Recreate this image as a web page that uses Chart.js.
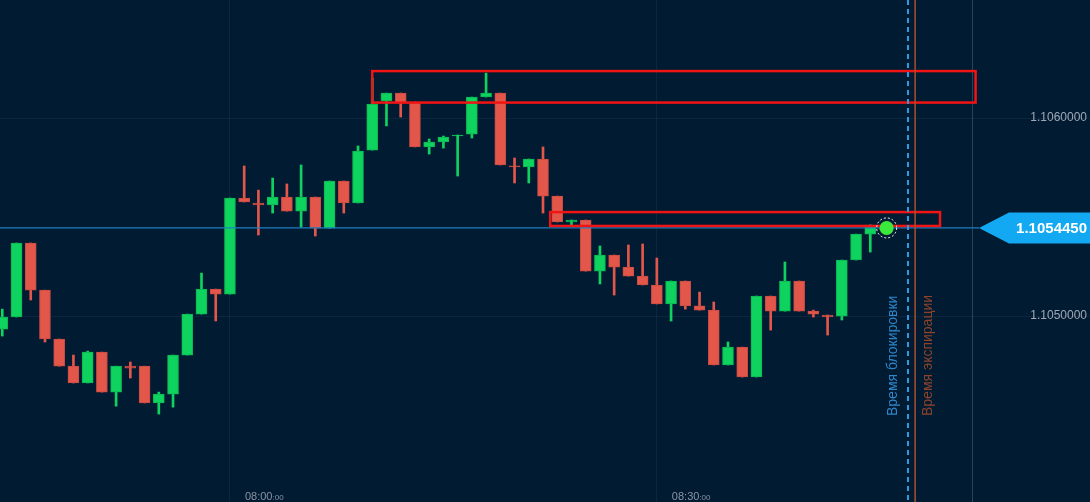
<!DOCTYPE html>
<html>
<head>
<meta charset="utf-8">
<script src="https://cdn.jsdelivr.net/npm/chart.js@4.4.1/dist/chart.umd.min.js"></script>
<style>
  html, body { margin: 0; padding: 0; background: #011b33; overflow: hidden; }
  canvas { display: block; }
</style>
</head>
<body>
<canvas id="chart" width="1090" height="502"></canvas>
<script>
'use strict';

// one-minute candles, index 16 = 08:00
var opens = [1.104934, 1.104995, 1.105369, 1.105131, 1.104884, 1.104747, 1.104662, 1.104818, 1.104616, 1.104747,
  1.104747, 1.104561, 1.104606, 1.104803, 1.105010, 1.105136, 1.105111, 1.105596, 1.105571, 1.105561,
  1.105601, 1.105530, 1.105601, 1.105444, 1.105682, 1.105571, 1.105838, 1.106086, 1.106126, 1.106081,
  1.105854, 1.105879, 1.105909, 1.105919, 1.106106, 1.106126, 1.105758, 1.105753, 1.105793, 1.105606,
  1.105475, 1.105485, 1.105227, 1.105308, 1.105247, 1.105202, 1.105157, 1.105061, 1.105177, 1.105051,
  1.105030, 1.104753, 1.104843, 1.104692, 1.105101, 1.105025, 1.105177, 1.105025, 1.105005, 1.105000,
  1.105283, 1.105414, 1.105438];
var highs = [1.105035, 1.105369, 1.105369, 1.105131, 1.104884, 1.104803, 1.104823, 1.104818, 1.104747, 1.104768,
  1.104747, 1.104616, 1.104803, 1.105010, 1.105217, 1.105136, 1.105596, 1.105758, 1.105636, 1.105697,
  1.105667, 1.105763, 1.105601, 1.105682, 1.105682, 1.105859, 1.106202, 1.106126, 1.106126, 1.106081,
  1.105894, 1.105909, 1.105914, 1.106106, 1.106227, 1.106126, 1.105798, 1.105793, 1.105854, 1.105606,
  1.105485, 1.105485, 1.105354, 1.105308, 1.105359, 1.105364, 1.105293, 1.105177, 1.105177, 1.105121,
  1.105071, 1.104869, 1.104843, 1.105101, 1.105101, 1.105273, 1.105177, 1.105030, 1.105005, 1.105283,
  1.105414, 1.105460, 1.105450];
var lows = [1.104899, 1.104995, 1.105081, 1.104869, 1.104747, 1.104662, 1.104662, 1.104616, 1.104545, 1.104687,
  1.104561, 1.104505, 1.104540, 1.104803, 1.105010, 1.104975, 1.105111, 1.105576, 1.105409, 1.105520,
  1.105530, 1.105449, 1.105404, 1.105444, 1.105520, 1.105571, 1.105838, 1.105960, 1.106005, 1.105854,
  1.105818, 1.105848, 1.105707, 1.105899, 1.106106, 1.105763, 1.105672, 1.105672, 1.105520, 1.105475,
  1.105460, 1.105227, 1.105162, 1.105106, 1.105202, 1.105157, 1.105061, 1.104975, 1.105035, 1.105030,
  1.104753, 1.104753, 1.104692, 1.104692, 1.104929, 1.105025, 1.105025, 1.104995, 1.104904, 1.104980,
  1.105283, 1.105323, 1.105436];
var closes = [1.104995, 1.105369, 1.105131, 1.104884, 1.104747, 1.104662, 1.104818, 1.104616, 1.104747, 1.104737,
  1.104561, 1.104606, 1.104803, 1.105010, 1.105136, 1.105111, 1.105596, 1.105576, 1.105561, 1.105601,
  1.105530, 1.105601, 1.105444, 1.105682, 1.105571, 1.105833, 1.106071, 1.106126, 1.106076, 1.105854,
  1.105879, 1.105904, 1.105914, 1.106106, 1.106126, 1.105763, 1.105753, 1.105793, 1.105606, 1.105475,
  1.105485, 1.105227, 1.105308, 1.105247, 1.105202, 1.105157, 1.105061, 1.105177, 1.105051, 1.105030,
  1.104753, 1.104843, 1.104692, 1.105101, 1.105025, 1.105177, 1.105025, 1.105010, 1.104995, 1.105283,
  1.105414, 1.105460, 1.105445];

var yTicks = [1.105, 1.106];
var xTicks = [16, 46];
var xTickLabels = ['08:00', '08:30'];

var lastIndex = 62.15;
var lastPrice = 1.105445;
var blockIndex = 63.65;
var expireIndex = 64.15;
var zoneHigh = { from: 26, to: 68.4, top: 1.106237, bottom: 1.106078 };
var zoneLow = { from: 38.5, to: 65.9, top: 1.105525, bottom: 1.105455 };

var GREEN = '#0fd35f';
var RED = '#e3574b';

var bodies = [];
var wicks = [];
for (var i = 0; i < opens.length; i++) {
  bodies.push({ x: i, y: [opens[i], closes[i]] });
  wicks.push({ x: i, y: [lows[i], highs[i]] });
}

function candleColor(c) {
  var i = c.dataIndex;
  return closes[i] >= opens[i] ? GREEN : RED;
}
function candleEdge(c) {
  var i = c.dataIndex;
  return closes[i] >= opens[i] ? '#0cb551' : '#c84a40';
}

var overlay = {
  id: 'overlay',
  afterDatasetsDraw: function (chart) {
    var ctx = chart.ctx;
    var sx = chart.scales.x;
    var sy = chart.scales.y;
    var W = chart.width, H = chart.height;
    ctx.save();

    // price panel separator
    ctx.strokeStyle = 'rgba(120,140,165,0.35)';
    ctx.lineWidth = 1;
    ctx.beginPath();
    ctx.moveTo(972.5, 0);
    ctx.lineTo(972.5, H);
    ctx.stroke();

    // current price line
    var py = sy.getPixelForValue(lastPrice);
    ctx.strokeStyle = '#1f7fc0';
    ctx.lineWidth = 1.2;
    ctx.beginPath();
    ctx.moveTo(0, py);
    ctx.lineTo(W - 111, py);
    ctx.stroke();

    // red zones
    ctx.strokeStyle = '#f01414';
    ctx.lineWidth = 2.5;
    [zoneHigh, zoneLow].forEach(function (z) {
      var x1 = sx.getPixelForValue(z.from), x2 = sx.getPixelForValue(z.to);
      var y1 = sy.getPixelForValue(z.top), y2 = sy.getPixelForValue(z.bottom);
      ctx.strokeRect(x1, y1, x2 - x1, y2 - y1);
    });

    // blocking / expiration lines
    var bx = sx.getPixelForValue(blockIndex);
    var ex = sx.getPixelForValue(expireIndex);
    ctx.strokeStyle = '#2f9ae0';
    ctx.lineWidth = 2;
    ctx.setLineDash([5, 4]);
    ctx.beginPath();
    ctx.moveTo(bx, 0);
    ctx.lineTo(bx, H);
    ctx.stroke();
    ctx.setLineDash([]);
    ctx.strokeStyle = '#a9502f';
    ctx.lineWidth = 1.5;
    ctx.beginPath();
    ctx.moveTo(ex, 0);
    ctx.lineTo(ex, H);
    ctx.stroke();

    ctx.font = '14px "Liberation Sans", Arial, sans-serif';
    ctx.textAlign = 'left';
    ctx.textBaseline = 'alphabetic';
    ctx.save();
    ctx.translate(bx - 11, 416);
    ctx.rotate(-Math.PI / 2);
    ctx.fillStyle = '#2f86c8';
    ctx.fillText('Время блокировки', 0, 0);
    ctx.restore();
    ctx.save();
    ctx.translate(ex + 17, 416);
    ctx.rotate(-Math.PI / 2);
    ctx.fillStyle = '#8e4329';
    ctx.fillText('Время экспирации', 0, 0);
    ctx.restore();

    // y labels
    ctx.font = '12px "Liberation Sans", Arial, sans-serif';
    ctx.fillStyle = '#a0a9b5';
    ctx.textAlign = 'right';
    ctx.textBaseline = 'middle';
    sy.ticks.forEach(function (t) {
      ctx.fillText(t.value.toFixed(7), W - 3, sy.getPixelForValue(t.value));
    });

    // x labels
    ctx.textAlign = 'left';
    ctx.textBaseline = 'alphabetic';
    ctx.fillStyle = '#8a94a2';
    sx.ticks.forEach(function (t, k) {
      var lx = sx.getPixelForValue(t.value) + 15;
      ctx.font = '11px "Liberation Sans", Arial, sans-serif';
      ctx.fillText(xTickLabels[k], lx, 500);
      var w = ctx.measureText(xTickLabels[k]).width;
      ctx.font = '8px "Liberation Sans", Arial, sans-serif';
      ctx.fillText(':00', lx + w, 500);
    });

    // price tag
    ctx.fillStyle = '#12a9f2';
    ctx.beginPath();
    ctx.moveTo(W - 111, py);
    ctx.lineTo(W - 81, py - 15.5);
    ctx.lineTo(W, py - 15.5);
    ctx.lineTo(W, py + 15.5);
    ctx.lineTo(W - 81, py + 15.5);
    ctx.closePath();
    ctx.fill();
    ctx.fillStyle = '#ffffff';
    ctx.font = 'bold 15px "Liberation Sans", Arial, sans-serif';
    ctx.textAlign = 'right';
    ctx.textBaseline = 'middle';
    ctx.fillText(lastPrice.toFixed(7), W - 3, py + 1);

    // current point
    var dx = sx.getPixelForValue(lastIndex);
    ctx.fillStyle = '#3be83c';
    ctx.beginPath();
    ctx.arc(dx, py, 7, 0, Math.PI * 2);
    ctx.fill();
    ctx.strokeStyle = '#ffffff';
    ctx.lineWidth = 1;
    ctx.setLineDash([2, 2]);
    ctx.beginPath();
    ctx.arc(dx, py, 10, 0, Math.PI * 2);
    ctx.stroke();
    ctx.setLineDash([]);

    ctx.restore();
  }
};

var ctx = document.getElementById('chart').getContext('2d');

var chart = new Chart(ctx, {
  type: 'bar',
  data: {
    datasets: [
      {
        label: 'wick',
        data: wicks,
        grouped: false,
        barThickness: 2,
        backgroundColor: candleColor,
        borderWidth: 0,
        order: 2
      },
      {
        label: 'body',
        data: bodies,
        grouped: false,
        barThickness: 11,
        backgroundColor: candleColor,
        borderColor: candleEdge,
        borderWidth: 1,
        borderSkipped: false,
        order: 1
      }
    ]
  },
  options: {
    responsive: false,
    animation: false,
    devicePixelRatio: 1,
    layout: { padding: 0 },
    plugins: {
      legend: { display: false },
      tooltip: { enabled: false }
    },
    scales: {
      x: {
        type: 'linear',
        min: -0.16,
        max: 76.44,
        offset: false,
        afterBuildTicks: function (s) {
          s.ticks = xTicks.map(function (v) { return { value: v }; });
        },
        afterFit: function (s) { s.height = 0; },
        ticks: { display: false },
        border: { display: false },
        grid: { color: 'rgba(255,255,255,0.05)', drawTicks: false, offset: false }
      },
      y: {
        type: 'linear',
        position: 'right',
        min: 1.104061,
        max: 1.106596,
        afterBuildTicks: function (s) {
          s.ticks = yTicks.map(function (v) { return { value: v }; });
        },
        afterFit: function (s) { s.width = 0; },
        ticks: { display: false },
        border: { display: false },
        grid: { color: 'rgba(255,255,255,0.05)', drawTicks: false }
      }
    }
  },
  plugins: [overlay]
});
</script>
</body>
</html>
